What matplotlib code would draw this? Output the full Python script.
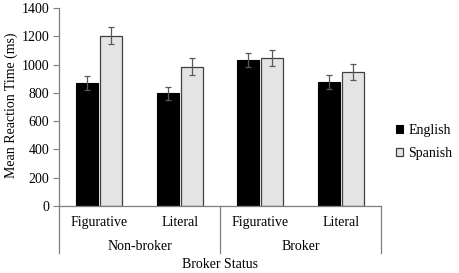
import numpy as np
import matplotlib.pyplot as plt

plt.rcParams['font.family'] = ['Liberation Serif', 'DejaVu Serif']

# Data
categories = ['Figurative', 'Literal', 'Figurative', 'Literal']
groups = ['Non-broker', 'Broker']
english = [870, 797, 1030, 875]
english_err = [48, 47, 50, 48]
spanish = [1204, 985, 1049, 950]
spanish_err = [59, 59, 57, 57]

fs = 10

fig = plt.figure(figsize=(4.59, 2.73), dpi=100)
ax = fig.add_axes([0.1285, 0.2454, 0.7015, 0.7253])

x = np.arange(len(categories))
width = 0.27
off = 0.15
axis_col = '#7f7f7f'
err_kw = dict(ecolor='#595959', elinewidth=0.9, capsize=2.2, capthick=0.9)

ax.bar(x - off, english, width, color='black', edgecolor='black', linewidth=0.8,
       yerr=english_err, error_kw=err_kw, label='English')
ax.bar(x + off, spanish, width, color='#e4e4e4', edgecolor='#404040', linewidth=0.9,
       yerr=spanish_err, error_kw=err_kw, label='Spanish')

ax.set_xlim(-0.5, 3.5)
ax.set_ylim(0, 1400)
ax.set_yticks(np.arange(0, 1401, 200))
ax.tick_params(axis='y', labelsize=fs, length=4, color=axis_col, width=0.8, pad=3)
ax.set_xticks(x)
ax.set_xticklabels(categories)
ax.tick_params(axis='x', labelsize=fs, length=0, pad=7)

for side in ('top', 'right'):
    ax.spines[side].set_visible(False)
for side in ('left', 'bottom'):
    ax.spines[side].set_color(axis_col)
    ax.spines[side].set_linewidth(0.9)

# group separators below the axis
trans = ax.get_xaxis_transform()
for xs in (-0.5, 1.5, 3.5):
    ax.plot([xs, xs], [0, -0.237], color=axis_col, lw=0.9, transform=trans, clip_on=False)

for i, g in enumerate(groups):
    ax.text(2 * i + 0.5, -0.205, g, transform=trans, ha='center', va='center', fontsize=fs)

ax.text(1.5, -0.295, 'Broker Status', transform=trans, ha='center', va='center', fontsize=fs)

fig.text(0.024, 0.615, 'Mean Reaction Time (ms)', rotation=90, ha='center', va='center', fontsize=fs)

leg = ax.legend(loc='center left', bbox_to_anchor=(0.835, 0.48), bbox_transform=fig.transFigure,
                frameon=False, fontsize=fs, handlelength=0.55, handleheight=0.55,
                handletextpad=0.35, labelspacing=0.75)

fig.savefig('out.png', dpi=100)
